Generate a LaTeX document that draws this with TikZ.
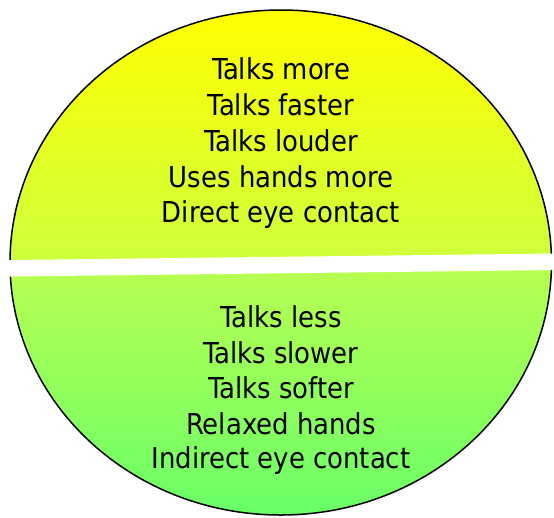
\documentclass[tikz,border=0pt]{standalone}
\usepackage{fontspec}
\setmainfont{DejaVu Sans Condensed}
\definecolor{topstart}{RGB}{255,255,0}
\definecolor{topend}{RGB}{205,255,62}
\definecolor{botstart}{RGB}{185,255,80}
\definecolor{botend}{RGB}{104,255,104}
\begin{document}
\begin{tikzpicture}[x=1pt,y=1pt,
  lbl/.style={anchor=base, font=\fontsize{28.8}{35.7}\selectfont, text=black, inner sep=0pt},
  outline/.style={draw=black, line width=1.5pt},
  divider/.style={draw=white, line width=16.5pt}]
\useasboundingbox (0,0) rectangle (554,-517);
\coordinate (c) at (280.75,-262.5);
\begin{scope}
  \clip (c) ellipse [x radius=270.75, y radius=252.5];
  \shade[top color=topstart, bottom color=topend] (0,-10) rectangle (554,-265);
  \shade[top color=botstart, bottom color=botend] (0,-265) rectangle (554,-516);
\end{scope}
\path[outline] (c) ellipse [x radius=270.75, y radius=252.5];
\coordinate (bl) at (0,-268.4);
\coordinate (br) at (554,-261.8);
\path[divider] (bl) -- (br);
\node[lbl] (t1) at (281,-79) {Talks more};
\node[lbl] (t2) at (281,-115) {Talks faster};
\node[lbl] (t3) at (281,-151) {Talks louder};
\node[lbl] (t4) at (281,-187) {Uses hands more};
\node[lbl] (t5) at (281,-222) {Direct eye contact};
\node[lbl] (b1) at (281,-327) {Talks less};
\node[lbl] (b2) at (281,-363) {Talks slower};
\node[lbl] (b3) at (281,-398) {Talks softer};
\node[lbl] (b4) at (281,-434) {Relaxed hands};
\node[lbl] (b5) at (281,-468) {Indirect eye contact};
\end{tikzpicture}
\end{document}
